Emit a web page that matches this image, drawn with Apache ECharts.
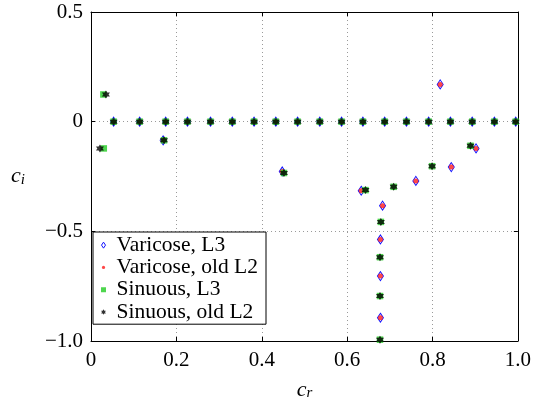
<!DOCTYPE html>
<html>
<head>
<meta charset="utf-8">
<script src="https://cdn.jsdelivr.net/npm/echarts@6/dist/echarts.min.js"></script>
<style>
  html, body { margin: 0; padding: 0; background: #fff; }
  #chart { width: 534px; height: 406px; }
</style>
</head>
<body>
<div id="chart"></div>
<script>
// Eigenvalue spectra c = c_r + i c_i for varicose and sinuous modes.
const seriesNames = ['Varicose, L3', 'Varicose, old L2', 'Sinuous, L3', 'Sinuous, old L2'];

// Neutral modes lying on c_i = 0 (common to all four computations)
const neutralCr = [0.053, 0.114, 0.175, 0.226, 0.280, 0.331, 0.382, 0.433, 0.484, 0.536,
                   0.587, 0.637, 0.688, 0.739, 0.791, 0.842, 0.893, 0.945, 0.995];
const neutralCi = [0, 0, 0, 0, 0, 0, 0, 0, 0, 0, 0, 0, 0, 0, 0, 0, 0, 0, 0];

// Varicose modes off the real axis
const varicoseL3Cr = [0.169, 0.448, 0.633, 0.683, 0.678, 0.678, 0.678, 0.761, 0.818, 0.844, 0.902];
const varicoseL3Ci = [-0.085, -0.227, -0.315, -0.383, -0.537, -0.704, -0.894, -0.270, 0.170, -0.207, -0.122];
const varicoseL2Cr = [0.169, 0.448, 0.633, 0.683, 0.678, 0.678, 0.678, 0.761, 0.818, 0.844, 0.902];
const varicoseL2Ci = [-0.085, -0.227, -0.315, -0.383, -0.537, -0.704, -0.894, -0.270, 0.170, -0.207, -0.122];

// Sinuous modes off the real axis
const sinuousL3Cr = [0.029, 0.030, 0.171, 0.452, 0.643, 0.709, 0.679, 0.677, 0.677, 0.677, 0.799, 0.889];
const sinuousL3Ci = [0.124, -0.122, -0.085, -0.234, -0.312, -0.297, -0.457, -0.618, -0.795, -0.994, -0.203, -0.110];
const sinuousL2Cr = [0.035, 0.021, 0.171, 0.452, 0.643, 0.709, 0.679, 0.677, 0.677, 0.677, 0.799, 0.889];
const sinuousL2Ci = [0.124, -0.122, -0.085, -0.234, -0.312, -0.297, -0.457, -0.618, -0.795, -0.994, -0.203, -0.110];

// Axis ranges and tick steps
const xRange = [0, 1], xStep = 0.2;
const yRange = [-1, 0.5], yStep = 0.5;

function pairs(xs, ys) {
  return xs.map((x, i) => [x, ys[i]]);
}
function withNeutral(xs, ys) {
  return pairs(neutralCr, neutralCi).concat(pairs(xs, ys));
}

const serif = "'Liberation Serif', 'Times New Roman', serif";
const hexagram = 'path://M0,-10L8.66,5L-8.66,5Z M0,10L-8.66,-5L8.66,-5Z';
const blue = '#1010ff', red = '#ff1a1a', green = '#22cc22', black = '#000';
// Legend glyphs: the leading moves fix a common 6x6 frame so each glyph keeps its own size
const legendIcons = [
  'path://M-3,-3M3,3M0,-3L2,0L0,3L-2,0Z',
  'path://M-3,-3M3,3M-1.6,0A1.6,1.6,0,1,1,1.6,0A1.6,1.6,0,1,1,-1.6,0Z',
  'path://M-3,-3M3,3M-2.5,-2.5L2.5,-2.5L2.5,2.5L-2.5,2.5Z',
  'path://M-3,-3M3,3M0,-2.7L2.34,1.35L-2.34,1.35Z M0,2.7L-2.34,-1.35L2.34,-1.35Z'
];
const legendStyles = [
  { color: 'rgba(255,255,255,0)', borderColor: blue, borderWidth: 1 },
  { color: red, borderWidth: 0 },
  { color: green, borderWidth: 0 },
  { color: black, borderWidth: 0 }
];
const gridDots = { color: '#9a9a9a', width: 1, type: [1, 3] };

function tickText(v) {
  if (Math.abs(v) < 1e-9) return '0';
  return v.toFixed(1).replace('-', '\u2212');
}

const chart = echarts.init(document.getElementById('chart'), null, { renderer: 'canvas' });

const axisLine = { show: true, onZero: false, lineStyle: { color: '#000', width: 1 } };
const axisTick = { show: true, inside: true, length: 4, lineStyle: { color: '#000' } };
const baseX = { type: 'value', min: xRange[0], max: xRange[1], interval: xStep, axisLine, axisTick };
const baseY = { type: 'value', min: yRange[0], max: yRange[1], interval: yStep, axisLine, axisTick };
const nameRich = {
  c: { fontFamily: serif, fontStyle: 'italic', fontSize: 22, color: '#000', lineHeight: 22 },
  s: { fontFamily: serif, fontStyle: 'italic', fontSize: 15, color: '#000', lineHeight: 22, verticalAlign: 'bottom', padding: [8, 0, 0, 0] }
};
const tickLabel = { show: true, color: '#000', fontFamily: serif, fontSize: 21, formatter: tickText };

chart.setOption({
  animation: false,
  backgroundColor: '#fff',
  textStyle: { fontFamily: serif },
  grid: { left: 91, right: 12, top: 12, bottom: 59, containLabel: false },
  xAxis: [
    Object.assign({}, baseX, {
      position: 'bottom',
      axisLabel: Object.assign({ margin: 9 }, tickLabel),
      splitLine: { show: true, lineStyle: gridDots },
      name: '{c|c}{s|r}', nameLocation: 'middle', nameGap: 38,
      nameTextStyle: { rich: nameRich }
    }),
    Object.assign({}, baseX, {
      position: 'top', axisLabel: { show: false }, splitLine: { show: false }
    })
  ],
  yAxis: [
    Object.assign({}, baseY, {
      position: 'left',
      axisLabel: Object.assign({ margin: 8 }, tickLabel),
      splitLine: { show: true, lineStyle: gridDots },
      name: '{c|c}{s|i}', nameLocation: 'middle', nameRotate: 0, nameGap: 66,
      nameTextStyle: { rich: nameRich }
    }),
    Object.assign({}, baseY, {
      position: 'right', axisLabel: { show: false }, splitLine: { show: false }
    })
  ],
  legend: {
    orient: 'vertical',
    left: 93, top: 232,
    padding: [2, 8, 1, 7],
    itemGap: 0,
    itemWidth: 6, itemHeight: 6,
    symbolKeepAspect: true,
    backgroundColor: '#fff',
    borderColor: '#000', borderWidth: 1,
    textStyle: { fontFamily: serif, fontSize: 21.5, color: '#000', lineHeight: 22.3, padding: [0, 0, 0, 5] },
    data: seriesNames.map((n, i) => ({ name: n, icon: legendIcons[i], itemStyle: legendStyles[i] }))
  },
  series: [
    {
      name: seriesNames[0], type: 'scatter', xAxisIndex: 0, yAxisIndex: 0,
      symbol: 'diamond', symbolSize: [6, 9],
      itemStyle: { color: 'rgba(255,255,255,0)', borderColor: blue, borderWidth: 1, opacity: 1 },
      data: withNeutral(varicoseL3Cr, varicoseL3Ci)
    },
    {
      name: seriesNames[1], type: 'scatter', xAxisIndex: 0, yAxisIndex: 0,
      symbol: 'circle', symbolSize: 5,
      itemStyle: { color: red },
      data: withNeutral(varicoseL2Cr, varicoseL2Ci)
    },
    {
      name: seriesNames[2], type: 'scatter', xAxisIndex: 0, yAxisIndex: 0,
      symbol: 'rect', symbolSize: 6.5,
      itemStyle: { color: green },
      data: withNeutral(sinuousL3Cr, sinuousL3Ci)
    },
    {
      name: seriesNames[3], type: 'scatter', xAxisIndex: 0, yAxisIndex: 0,
      symbol: hexagram, symbolSize: 8,
      itemStyle: { color: black },
      data: withNeutral(sinuousL2Cr, sinuousL2Ci)
    }
  ]
});
</script>
</body>
</html>
